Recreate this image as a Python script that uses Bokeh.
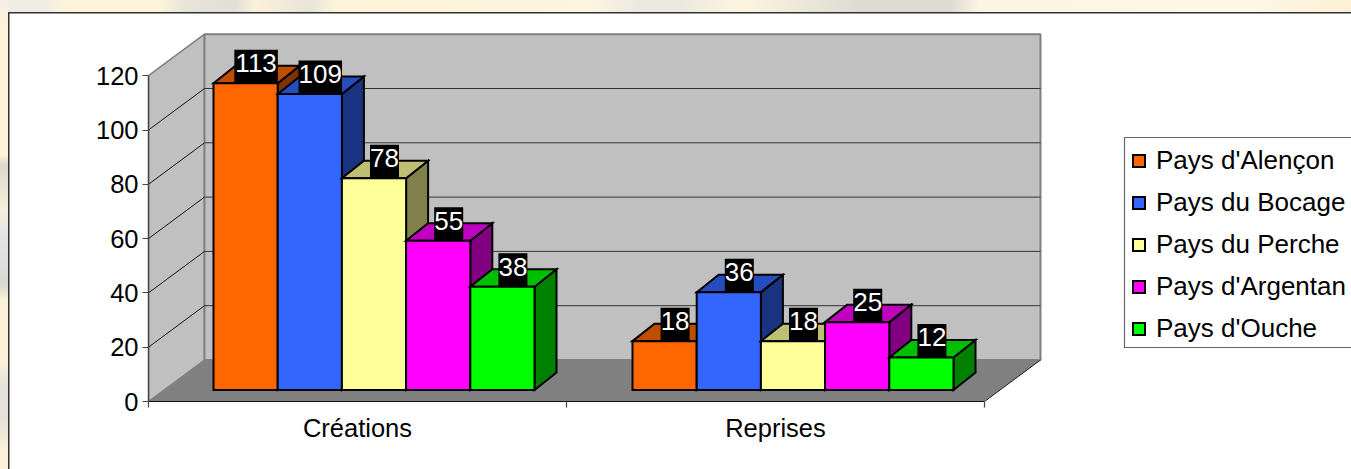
from bokeh.plotting import figure
from bokeh.models import Range1d, FixedTicker, Legend, LegendItem
from bokeh.core.properties import value
from bokeh.embed import file_html
from bokeh.resources import INLINE

categories = ["Créations", "Reprises"]
series_names = ["Pays d'Alençon", "Pays du Bocage", "Pays du Perche", "Pays d'Argentan", "Pays d'Ouche"]
alencon = [113, 18]
bocage = [109, 36]
perche = [78, 18]
argentan = [55, 25]
ouche = [38, 12]
front_colors = ["#ff6600", "#3366ff", "#ffff99", "#ff00ff", "#00ff00"]
top_colors = ["#bf4d00", "#264dbf", "#bfbf73", "#bf00bf", "#00bf00"]
side_colors = ["#803300", "#1a3380", "#80804d", "#800080", "#008000"]
y_ticks = [0, 20, 40, 60, 80, 100, 120]

series_values = [alencon, bocage, perche, argentan, ouche]

W, H = 1351, 469
FRAME_LEFT, FRAME_BOTTOM, FRAME_TOP = 148, H - 401, 14
PX_X = 418.0                                # px for one category
PX_Y = 2.715                                # px for one value unit
FONT = value("Liberation Sans")
CREAM = "#fdf3d8"
EDGE = "#333333"
LEFT_STRIP = ("#f3efe4 0px, #fdf3d8 30px, #fdf3d8 155px, #ddd8cc 165px, #f5eeda 210px, #e2e2e6 240px, "
              "#d8d8d0 285px, #fbf1d8 300px, #fdf2d8 360px, #e4e2d8 385px, #e5e0d8 420px, #fbf0d8 450px")
TOP_STRIP = ("#f0ede6 0px, #f0ede6 45px, #fdf3d8 65px, #fdf3d8 160px, #e8e4da 185px, #e2dfd8 235px, "
             "#fbf1d8 255px, #e8e4da 310px, #fdf3d8 335px, #fdf5e0 590px, #ece8e0 640px, #ece8e0 680px, "
             "#fdf5e0 740px, #dedbd4 860px, #dedbd4 950px, #fdf5e4 980px, #fdf7e6 1250px, #fdf0d4 1351px")


def ux(px):
    return px / PX_X


def uy(px):
    return px / PX_Y


p = figure(width=W, height=H, output_backend="svg", toolbar_location=None,
           x_range=Range1d(0, ux(W - FRAME_LEFT)),
           y_range=Range1d(0, uy(H - FRAME_BOTTOM - FRAME_TOP)),
           min_border_left=FRAME_LEFT, min_border_bottom=FRAME_BOTTOM,
           min_border_top=FRAME_TOP, min_border_right=0,
           background_fill_color=None, border_fill_color=None,
           outline_line_color=None, tools="")
p.styles = {"background": (
    f"linear-gradient({EDGE},{EDGE}) 8px 12px / 100% 1.5px no-repeat,"
    f"linear-gradient({EDGE},{EDGE}) 8px 12px / 1.5px 100% no-repeat,"
    f"linear-gradient(#ffffff,#ffffff) 8px 12px / 100% 100% no-repeat,"
    f"linear-gradient(to bottom,{LEFT_STRIP}) 0px 0px / 8px 100% no-repeat,"
    f"linear-gradient(to right,{TOP_STRIP}) 0px 0px / 100% 12px no-repeat,"
    f"{CREAM}")}
p.grid.visible = False

# 3D box
DX, DY = ux(56), uy(41.5)
X_END = float(len(categories))
Y_TOP = max(y_ticks)
p.patch([0, DX, DX, 0], [0, DY, Y_TOP + DY, Y_TOP], fill_color="#c0c0c0", line_color="#808080", line_width=1.5)
p.quad(left=[DX], right=[X_END + DX], bottom=[DY], top=[Y_TOP + DY], fill_color="#c0c0c0",
       line_color="#808080", line_width=2)
p.patch([0, DX, X_END + DX, X_END], [0, DY, DY, 0], fill_color="#808080", line_color=None)
grid_vals = [v for v in y_ticks if 0 < v < Y_TOP]
p.segment(x0=[DX] * len(grid_vals), y0=[v + DY for v in grid_vals],
          x1=[X_END + DX] * len(grid_vals), y1=[v + DY for v in grid_vals], line_color="#333333", line_width=1)
p.segment(x0=[0] * len(grid_vals), y0=grid_vals,
          x1=[DX] * len(grid_vals), y1=[v + DY for v in grid_vals], line_color="#111111", line_width=1)
p.line([X_END, X_END + DX], [0, DY], line_color="#222222", line_width=1)

# Bars
GROUP_LEFT = [ux(65), ux(484)]
BAR_W = ux(64.2)
BAR_DX, BAR_DY = ux(22), uy(17.5)
BASE = uy(11.5)
BAR_LW = 2
items = []
lab_x, lab_y, lab_t, lab_w = [], [], [], []
for s, vals in enumerate(series_values):
    lefts = [GROUP_LEFT[g] + s * BAR_W for g in range(len(vals))]
    rights = [l + BAR_W for l in lefts]
    tops = [BASE + v for v in vals]
    p.patches(xs=[[r, r + BAR_DX, r + BAR_DX, r] for r in rights],
              ys=[[BASE, BASE + BAR_DY, t + BAR_DY, t] for t in tops],
              fill_color=side_colors[s], line_color="black", line_width=BAR_LW, line_join="miter")
    p.patches(xs=[[l, l + BAR_DX, r + BAR_DX, r] for l, r in zip(lefts, rights)],
              ys=[[t, t + BAR_DY, t + BAR_DY, t] for t in tops],
              fill_color=top_colors[s], line_color="black", line_width=BAR_LW, line_join="miter")
    r_front = p.quad(left=lefts, right=rights, bottom=[BASE] * len(vals), top=tops,
                     fill_color=front_colors[s], line_color="black", line_width=BAR_LW, line_join="miter")
    items.append(LegendItem(label=series_names[s], renderers=[r_front]))
    for l, t, v in zip(lefts, tops, vals):
        lab_x.append(l + BAR_W / 2 + ux(10.5))
        lab_y.append(t + uy(17))
        lab_t.append(str(v))
        lab_w.append(14.5 * len(str(v)))

p.rect(x=lab_x, y=lab_y, width=lab_w, height=33, width_units="screen", height_units="screen",
       fill_color="black", line_color=None)
p.text(x=lab_x, y=lab_y, text=lab_t, text_color="white", text_font=FONT, text_font_size="26px",
       text_align="center", text_baseline="middle", y_offset=-3)

# Axes
ya = p.yaxis[0]
ya.ticker = FixedTicker(ticks=y_ticks)
ya.bounds = (0, Y_TOP)
ya.major_tick_out, ya.major_tick_in = 6, 0
ya.minor_tick_line_color = None
ya.major_label_standoff = 4
ya.major_label_text_font = "Liberation Sans"
ya.major_label_text_font_size = "25.5px"
ya.major_label_text_color = "black"
ya.axis_line_color = "#444444"
ya.axis_line_width = 1.5
ya.major_tick_line_color = "#444444"
ya.major_tick_line_width = 1

xa = p.xaxis[0]
xa.ticker = FixedTicker(ticks=[i + 0.5 for i in range(len(categories))],
                        minor_ticks=list(range(len(categories) + 1)))
xa.major_label_overrides = {i + 0.5: c for i, c in enumerate(categories)}
xa.bounds = (0, X_END)
xa.major_tick_line_color = None
xa.major_tick_out, xa.major_tick_in = 0, 0
xa.minor_tick_out, xa.minor_tick_in = 6, 0
xa.minor_tick_line_color = "#444444"
xa.minor_tick_line_width = 1.2
xa.major_label_standoff = 6
xa.major_label_text_font = "Liberation Sans"
xa.major_label_text_font_size = "25.5px"
xa.major_label_text_color = "black"
xa.axis_line_color = "#111111"
xa.axis_line_width = 1

# Legend box, running off the right edge as in the reference
p.quad(left=[ux(1124 - FRAME_LEFT)], right=[ux(W + 20 - FRAME_LEFT)], bottom=[uy(401 - 347)], top=[uy(401 - 137)],
       fill_color="white", line_color="#666666", line_width=1.2)
legend = Legend(items=items, location=(1131 - FRAME_LEFT, 401 - 344),
                orientation="vertical", padding=9, margin=0, spacing=10,
                glyph_width=15, glyph_height=15, label_height=32, label_standoff=10,
                label_text_font="Liberation Sans", label_text_font_size="26px", label_text_color="black",
                border_line_color=None, background_fill_alpha=0)
p.add_layout(legend, "center")

open("out.html", "w").write(file_html(p, INLINE))
